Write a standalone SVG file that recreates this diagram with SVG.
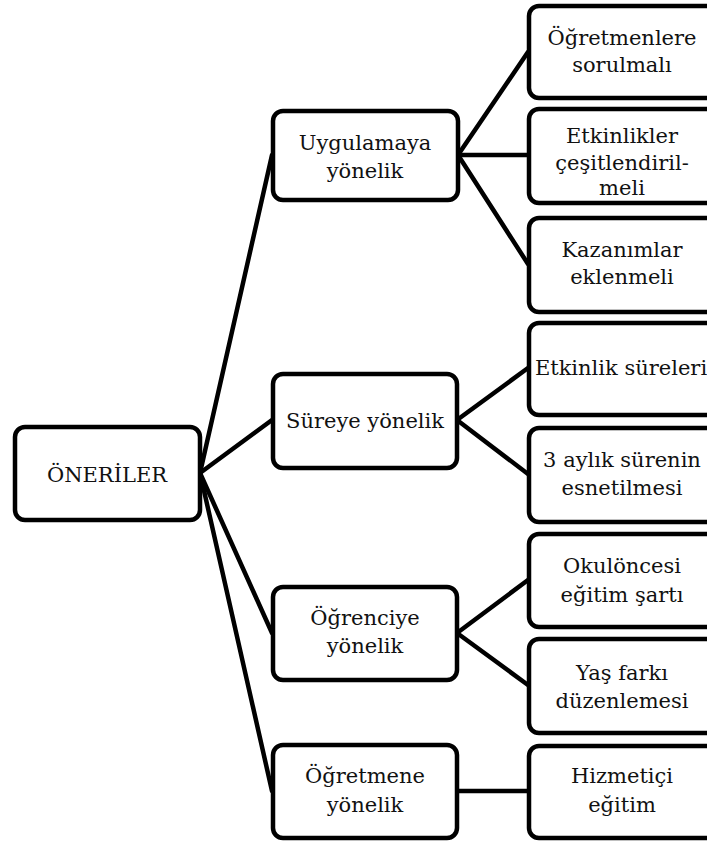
<svg xmlns="http://www.w3.org/2000/svg" width="707" height="841" viewBox="0 0 707 841">
  <style>
    .box { fill: #ffffff; stroke: #000000; stroke-width: 4.5; }
    .link { stroke: #000000; stroke-width: 4.5; fill: none; stroke-linecap: round; }
    .lbl { font-family: 'DejaVu Serif', 'Liberation Serif', serif; font-size: 21px; fill: #111111; text-anchor: middle; }
  </style>
  <rect width="707" height="841" fill="#ffffff"/>

  <!-- connectors -->
  <g id="connectors">
    <line class="link" x1="200" y1="473" x2="272" y2="155"/>
    <line class="link" x1="200" y1="473" x2="272" y2="420"/>
    <line class="link" x1="200" y1="473" x2="272" y2="633"/>
    <line class="link" x1="200" y1="473" x2="272" y2="791"/>

    <line class="link" x1="458" y1="155" x2="528" y2="52"/>
    <line class="link" x1="458" y1="155" x2="528" y2="155"/>
    <line class="link" x1="458" y1="155" x2="528" y2="264"/>

    <line class="link" x1="457" y1="420" x2="528" y2="368"/>
    <line class="link" x1="457" y1="420" x2="528" y2="474"/>

    <line class="link" x1="457" y1="633" x2="528" y2="580"/>
    <line class="link" x1="457" y1="633" x2="528" y2="685"/>

    <line class="link" x1="457" y1="791" x2="528" y2="791"/>
  </g>

  <g class="lbl">
  <!-- root -->
  <g id="oneriler">
    <rect class="box" x="15" y="427" width="185" height="93" rx="10"/>
    <text x="107" y="482">ÖNERİLER</text>
  </g>

  <!-- second level -->
  <g id="uygulamaya">
    <rect class="box" x="273" y="111" width="185" height="89" rx="10"/>
    <text x="365" y="150">Uygulamaya</text>
    <text x="365" y="178">yönelik</text>
  </g>
  <g id="sureye">
    <rect class="box" x="273" y="374" width="184" height="94" rx="10"/>
    <text x="365" y="428">Süreye yönelik</text>
  </g>
  <g id="ogrenciye">
    <rect class="box" x="273" y="587" width="184" height="93" rx="10"/>
    <text x="365" y="625">Öğrenciye</text>
    <text x="365" y="653">yönelik</text>
  </g>
  <g id="ogretmene">
    <rect class="box" x="273" y="745" width="184" height="93" rx="10"/>
    <text x="365" y="783">Öğretmene</text>
    <text x="365" y="812">yönelik</text>
  </g>

  <!-- third level -->
  <g id="ogretmenlere-sorulmali">
    <rect class="box" x="529" y="6" width="200" height="92" rx="10"/>
    <text x="622" y="45">Öğretmenlere</text>
    <text x="622" y="72">sorulmalı</text>
  </g>
  <g id="etkinlikler-cesitlendirilmeli">
    <rect class="box" x="529" y="109" width="200" height="94" rx="10"/>
    <text x="622" y="143">Etkinlikler</text>
    <text x="622" y="170">çeşitlendiril-</text>
    <text x="622" y="195">meli</text>
  </g>
  <g id="kazanimlar-eklenmeli">
    <rect class="box" x="529" y="218" width="200" height="94" rx="10"/>
    <text x="622" y="257">Kazanımlar</text>
    <text x="622" y="284">eklenmeli</text>
  </g>
  <g id="etkinlik-sureleri">
    <rect class="box" x="529" y="323" width="200" height="92" rx="10"/>
    <text x="621" y="375">Etkinlik süreleri</text>
  </g>
  <g id="uc-aylik-sure">
    <rect class="box" x="529" y="428" width="200" height="94" rx="10"/>
    <text x="622" y="467">3 aylık sürenin</text>
    <text x="622" y="495">esnetilmesi</text>
  </g>
  <g id="okuloncesi-egitim">
    <rect class="box" x="529" y="534" width="200" height="93" rx="10"/>
    <text x="622" y="573">Okulöncesi</text>
    <text x="622" y="602">eğitim şartı</text>
  </g>
  <g id="yas-farki">
    <rect class="box" x="529" y="639" width="200" height="94" rx="10"/>
    <text x="622" y="680">Yaş farkı</text>
    <text x="622" y="708">düzenlemesi</text>
  </g>
  <g id="hizmetici-egitim">
    <rect class="box" x="529" y="746" width="200" height="92" rx="10"/>
    <text x="622" y="783">Hizmetiçi</text>
    <text x="622" y="812">eğitim</text>
  </g>
  </g>
</svg>
